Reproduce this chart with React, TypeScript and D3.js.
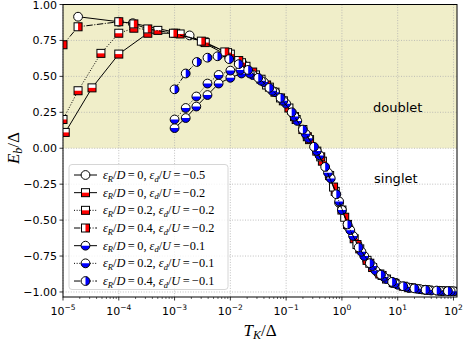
import React from "react";
import * as d3 from "d3";

// log10(T_K/Δ) and E_b/Δ for each series
const s1X = [-4.73, -4.0, -3.75, -2.73, -1.78, -1.2, -0.9, -0.62, -0.4, -0.22, -0.05, 0.12, 0.28, 0.45, 0.65, 0.9, 1.2, 1.5, 1.8, 1.95];
const s1Y = [0.915, 0.88, 0.87, 0.785, 0.59, 0.39, 0.25, 0.08, -0.05, -0.2, -0.38, -0.55, -0.67, -0.78, -0.87, -0.93, -0.97, -0.985, -0.993, -0.995];

const s2X = [-4.96, -4.48, -4.0, -3.48, -2.98, -2.47, -2.0, -1.72, -1.45, -1.2, -0.95, -0.7, -0.45, -0.22, 0.0, 0.22, 0.45, 0.68, 0.92, 1.2, 1.5, 1.8, 1.98];
const s2Y = [0.11, 0.42, 0.655, 0.8, 0.8, 0.74, 0.655, 0.57, 0.48, 0.39, 0.28, 0.13, -0.02, -0.19, -0.43, -0.63, -0.78, -0.875, -0.935, -0.97, -0.985, -0.993, -0.995];

const s3X = [-5.0, -4.73, -4.32, -4.0, -3.73, -3.3, -2.9, -2.45, -2.05, -1.8, -1.55, -1.3, -1.05, -0.82, -0.58, -0.35, -0.12, 0.1, 0.32, 0.55, 0.8, 1.1, 1.45, 1.75];
const s3Y = [0.2, 0.4, 0.66, 0.8, 0.835, 0.82, 0.795, 0.735, 0.665, 0.595, 0.51, 0.425, 0.33, 0.2, 0.06, -0.09, -0.3, -0.53, -0.7, -0.83, -0.91, -0.96, -0.983, -0.992];

const s4X = [-5.0, -4.73, -4.0, -3.73, -3.48, -3.02, -2.52, -2.1, -1.85, -1.6, -1.35, -1.1, -0.85, -0.62, -0.38, -0.15, 0.05, 0.27, 0.5, 0.72, 0.95, 1.25, 1.55, 1.85];
const s4Y = [0.72, 0.845, 0.88, 0.865, 0.83, 0.8, 0.745, 0.67, 0.61, 0.53, 0.44, 0.35, 0.22, 0.08, -0.06, -0.27, -0.48, -0.67, -0.8, -0.885, -0.94, -0.972, -0.988, -0.993];

const s5X = [-3.0, -2.8, -2.61, -2.41, -2.21, -2.0, -1.8, -1.6, -1.4, -1.2, -1.0, -0.8, -0.6, -0.4, -0.2, 0.0, 0.2, 0.4, 0.6, 0.8, 1.0, 1.2, 1.4, 1.6, 1.8, 2.0];
const s5Y = [0.14, 0.21, 0.29, 0.37, 0.45, 0.49, 0.52, 0.51, 0.46, 0.39, 0.31, 0.19, 0.07, -0.05, -0.21, -0.43, -0.61, -0.75, -0.85, -0.91, -0.95, -0.97, -0.98, -0.99, -0.993, -0.995];

const s6X = [-3.0, -2.8, -2.61, -2.41, -2.21, -2.0, -1.82, -1.65, -1.45, -1.25, -1.05, -0.85, -0.65, -0.45, -0.25, -0.05, 0.15, 0.35, 0.55, 0.75, 0.95, 1.15, 1.35, 1.55, 1.75, 1.95];
const s6Y = [0.2, 0.28, 0.36, 0.45, 0.51, 0.54, 0.545, 0.52, 0.47, 0.4, 0.33, 0.22, 0.1, -0.02, -0.17, -0.37, -0.57, -0.72, -0.82, -0.895, -0.94, -0.965, -0.978, -0.987, -0.992, -0.995];

const s7X = [-3.0, -2.8, -2.6, -2.41, -2.23, -2.02, -1.85, -1.68, -1.5, -1.3, -1.1, -0.9, -0.7, -0.5, -0.3, -0.1, 0.1, 0.3, 0.5, 0.7, 0.9, 1.1, 1.3, 1.5, 1.7, 1.9];
const s7Y = [0.41, 0.52, 0.6, 0.63, 0.64, 0.62, 0.585, 0.545, 0.49, 0.42, 0.35, 0.25, 0.13, 0.01, -0.13, -0.32, -0.53, -0.69, -0.8, -0.88, -0.93, -0.96, -0.975, -0.985, -0.99, -0.994];

const legendR = ["0", "0", "0.2", "0.4", "0", "0.2", "0.4"];
const legendD = ["\u22120.5", "\u22120.2", "\u22120.2", "\u22120.2", "\u22120.1", "\u22120.1", "\u22120.1"];
const yTicks = [1.0, 0.75, 0.5, 0.25, 0.0, -0.25, -0.5, -0.75, -1.0];
const xTickExps = [-5, -4, -3, -2, -1, 0, 1, 2];

type Marker = "circle" | "square";
type Fill = "none" | "bottom" | "right";
interface Series { xs: number[]; ys: number[]; marker: Marker; fill: Fill; color: string; dash: string | null; }

const series: Series[] = [
  { xs: s1X, ys: s1Y, marker: "circle", fill: "none", color: "#ff0000", dash: null },
  { xs: s2X, ys: s2Y, marker: "square", fill: "bottom", color: "#ff0000", dash: null },
  { xs: s3X, ys: s3Y, marker: "square", fill: "bottom", color: "#ff0000", dash: "1,1.65" },
  { xs: s4X, ys: s4Y, marker: "square", fill: "right", color: "#ff0000", dash: "6.4,1.6,1,1.6" },
  { xs: s5X, ys: s5Y, marker: "circle", fill: "bottom", color: "#0000ff", dash: null },
  { xs: s6X, ys: s6Y, marker: "circle", fill: "bottom", color: "#0000ff", dash: "1,1.65" },
  { xs: s7X, ys: s7Y, marker: "circle", fill: "right", color: "#0000ff", dash: "6.4,1.6,1,1.6" },
];

const L = 63, R = 457, T = 4.5, B = 297;
const x = d3.scaleLog().domain([1e-5, Math.pow(10, 2.063)]).range([L, R]);
const y = d3.scaleLinear().domain([-1.035, 1]).range([B, T]);

function MarkerGlyph({ cx, cy, s }: { cx: number; cy: number; s: Series }) {
  const r = 4.4;
  const h = 4.0;
  if (s.marker === "circle") {
    let half: React.ReactNode = null;
    if (s.fill === "bottom") half = <path d={`M${-r},0A${r},${r} 0 0 0 ${r},0Z`} fill={s.color} />;
    if (s.fill === "right") half = <path d={`M0,${-r}A${r},${r} 0 0 1 0,${r}Z`} fill={s.color} />;
    return (
      <g transform={`translate(${cx},${cy})`}>
        <circle r={r} fill="white" />
        {half}
        <circle r={r} fill="none" stroke="black" strokeWidth={1} />
      </g>
    );
  }
  let half: React.ReactNode = null;
  if (s.fill === "bottom") half = <rect x={-h} y={0} width={2 * h} height={h} fill={s.color} />;
  if (s.fill === "right") half = <rect x={0} y={-h} width={h} height={2 * h} fill={s.color} />;
  return (
    <g transform={`translate(${cx},${cy})`}>
      <rect x={-h} y={-h} width={2 * h} height={2 * h} fill="white" />
      {half}
      <rect x={-h} y={-h} width={2 * h} height={2 * h} fill="none" stroke="black" strokeWidth={1} />
    </g>
  );
}

const mathFont = "'Liberation Serif', 'DejaVu Serif', serif";
const sansFont = "'DejaVu Sans', sans-serif";

export default function App() {
  const line = d3.line<[number, number]>().x((d) => x(Math.pow(10, d[0]))).y((d) => y(d[1]));
  const minorTicks: number[] = [];
  for (let e = -5; e <= 2; e++) for (let m = 2; m <= 9; m++) { const v = m * Math.pow(10, e); if (x(v) <= R) minorTicks.push(v); }
  const legRowY = (i: number) => 175 + i * 17.67;

  return (
    <svg width={463} height={341} style={{ position: "absolute", left: 0, top: 0 }}>
      <defs>
        <clipPath id="plotclip"><rect x={L} y={T} width={R - L} height={B - T} /></clipPath>
      </defs>
      <rect x={0} y={0} width={463} height={341} fill="white" />
      <rect x={L} y={y(1)} width={R - L} height={y(0) - y(1)} fill="#f0eec9" />
      {/* grid */}
      <g stroke="#b0b0b0" strokeWidth={0.8} strokeDasharray="1,1.6">
        {xTickExps.map((e) => <line key={"gx" + e} x1={x(Math.pow(10, e))} x2={x(Math.pow(10, e))} y1={T} y2={B} />)}
        {yTicks.map((v) => <line key={"gy" + v} x1={L} x2={R} y1={y(v)} y2={y(v)} />)}
      </g>
      {/* data */}
      <g clipPath="url(#plotclip)">
        {series.map((s, i) => {
          const pts = s.xs.map((v, j) => [v, s.ys[j]] as [number, number]);
          return (
            <g key={"s" + i}>
              <path d={line(pts) || ""} fill="none" stroke="black" strokeWidth={1} strokeDasharray={s.dash || undefined} />
              {pts.map((p, j) => <MarkerGlyph key={j} cx={x(Math.pow(10, p[0]))} cy={y(p[1])} s={s} />)}
            </g>
          );
        })}
      </g>
      {/* region labels */}
      <text x={373} y={112} fontFamily={sansFont} fontSize={13}>doublet</text>
      <text x={374} y={183} fontFamily={sansFont} fontSize={13}>singlet</text>
      {/* spines */}
      <rect x={L} y={T} width={R - L} height={B - T} fill="none" stroke="black" strokeWidth={1} />
      {/* y ticks */}
      <g fontFamily={sansFont} fontSize={11} textAnchor="end">
        {yTicks.map((v) => (
          <g key={"yt" + v}>
            <line x1={L - 3.5} x2={L} y1={y(v)} y2={y(v)} stroke="black" strokeWidth={0.8} />
            <text x={L - 6} y={y(v) + 4}>{(v < 0 ? "\u2212" : "") + Math.abs(v).toFixed(2)}</text>
          </g>
        ))}
      </g>
      {/* x ticks */}
      <g fontFamily={sansFont} fontSize={11} textAnchor="middle">
        {minorTicks.map((v, i) => <line key={"mt" + i} x1={x(v)} x2={x(v)} y1={B} y2={B + 2} stroke="black" strokeWidth={0.6} />)}
        {xTickExps.map((e) => (
          <g key={"xt" + e}>
            <line x1={x(Math.pow(10, e))} x2={x(Math.pow(10, e))} y1={B} y2={B + 3.5} stroke="black" strokeWidth={0.8} />
            <text x={x(Math.pow(10, e))} y={315}>
              10<tspan fontSize={7.5} dy={-5}>{(e < 0 ? "\u2212" : "") + Math.abs(e)}</tspan>
            </text>
          </g>
        ))}
      </g>
      {/* axis labels */}
      <text x={260} y={336} textAnchor="middle" fontFamily={mathFont} fontSize={17}>
        <tspan fontStyle="italic">T</tspan><tspan fontStyle="italic" fontSize={12} dy={3}>K</tspan><tspan dy={-3}>/Δ</tspan>
      </text>
      <text transform="translate(19,148) rotate(-90)" textAnchor="middle" fontFamily={mathFont} fontSize={17}>
        <tspan fontStyle="italic">E</tspan><tspan fontStyle="italic" fontSize={12} dy={3}>b</tspan><tspan dy={-3}>/Δ</tspan>
      </text>
      {/* legend */}
      <rect x={69} y={164.5} width={159} height={125} rx={3} fill="white" fillOpacity={0.8} stroke="#cccccc" strokeWidth={0.8} />
      {series.map((s, i) => {
        const ly = legRowY(i);
        return (
          <g key={"lg" + i}>
            <line x1={74} x2={97} y1={ly} y2={ly} stroke="black" strokeWidth={1} strokeDasharray={s.dash || undefined} />
            <MarkerGlyph cx={85.5} cy={ly} s={s} />
            <text x={103} y={ly + 4} fontFamily={mathFont} fontSize={12.3}>
              <tspan fontStyle="italic">ε</tspan><tspan fontStyle="italic" fontSize={8.5} dy={2.5}>R</tspan>
              <tspan dy={-2.5}>/</tspan><tspan fontStyle="italic">D</tspan>
              <tspan>{"\u2009=\u2009" + legendR[i] + ", "}</tspan>
              <tspan fontStyle="italic">ε</tspan><tspan fontStyle="italic" fontSize={8.5} dy={2.5}>d</tspan>
              <tspan dy={-2.5}>/</tspan><tspan fontStyle="italic">U</tspan>
              <tspan>{"\u2009=\u2009" + legendD[i]}</tspan>
            </text>
          </g>
        );
      })}
    </svg>
  );
}
